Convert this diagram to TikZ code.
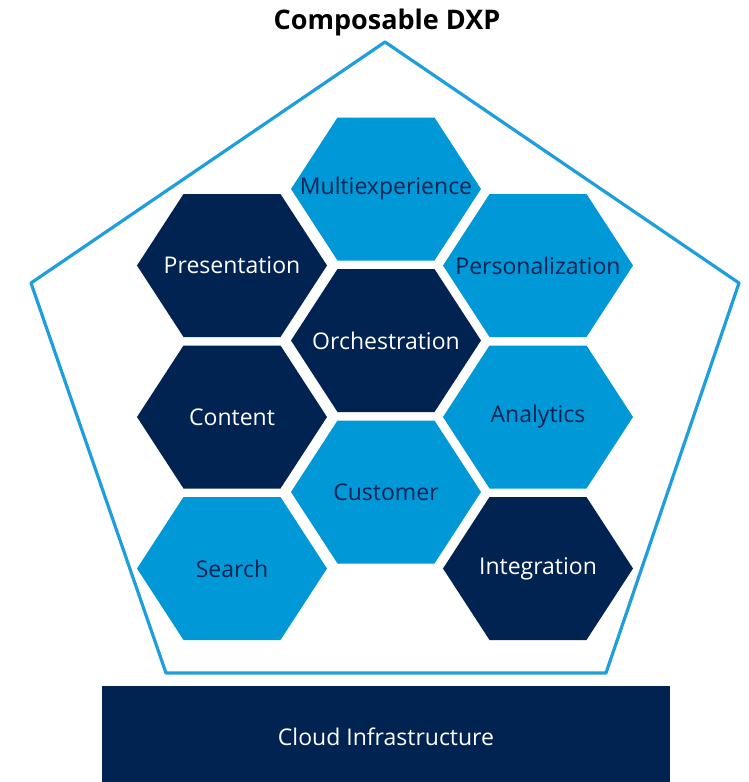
\documentclass[tikz,border=0pt]{standalone}
\usepackage{fontspec}
\setmainfont{Open Sans}
\usepackage{tkz-euclide}
\tikzset{>=stealth}
\definecolor{navy}{RGB}{0,35,82}
\definecolor{sky}{RGB}{0,152,214}
\definecolor{rim}{RGB}{30,158,220}
\tikzset{
  hexlabel/.style={font=\fontsize{23}{27}\selectfont},
  title/.style={font=\bfseries\fontsize{27}{31}\selectfont},
  cloudbox/.style={fill=navy,text=white,minimum width=568pt,minimum height=102pt,
    inner sep=0pt,font=\fontsize{23}{27}\selectfont}
}
% name, centre, fill, text colour, label
\newcommand{\hexcell}[5]{%
  \fill[#3,shift={(#2)}] (-95,0) -- (-48.5,-71.5) -- (48.5,-71.5) -- (95,0)
    -- (48.5,71.5) -- (-48.5,71.5) -- cycle;
  \node[hexlabel,text=#4] (#1) at (#2) {#5};}

\begin{document}
\begin{tikzpicture}[x=1pt,y=-1pt]
\useasboundingbox (0,0) rectangle (748,782);
\node[title] (dxp) at (387,22) {Composable DXP};
\tkzDefPoints{385/42/T, 739/283/R, 606/673/Q, 166/673/P, 31/283/L}
\tkzDrawPolygon[color=rim,line width=3.2pt](T,R,Q,P,L)
\hexcell{multi}{386,189}{sky}{navy}{Multiexperience}
\hexcell{pres}{232,265.5}{navy}{white}{Presentation}
\hexcell{pers}{538,265.5}{sky}{navy}{Personalization}
\hexcell{orch}{386,340.5}{navy}{white}{Orchestration}
\hexcell{cont}{232,417}{navy}{white}{Content}
\hexcell{anal}{538,417}{sky}{navy}{Analytics}
\hexcell{cust}{386,492}{sky}{navy}{Customer}
\hexcell{srch}{232,568.5}{sky}{navy}{Search}
\hexcell{integ}{538,568.5}{navy}{white}{Integration}
\node[cloudbox] (infra) at (386,737) {Cloud Infrastructure};
\end{tikzpicture}
\end{document}
